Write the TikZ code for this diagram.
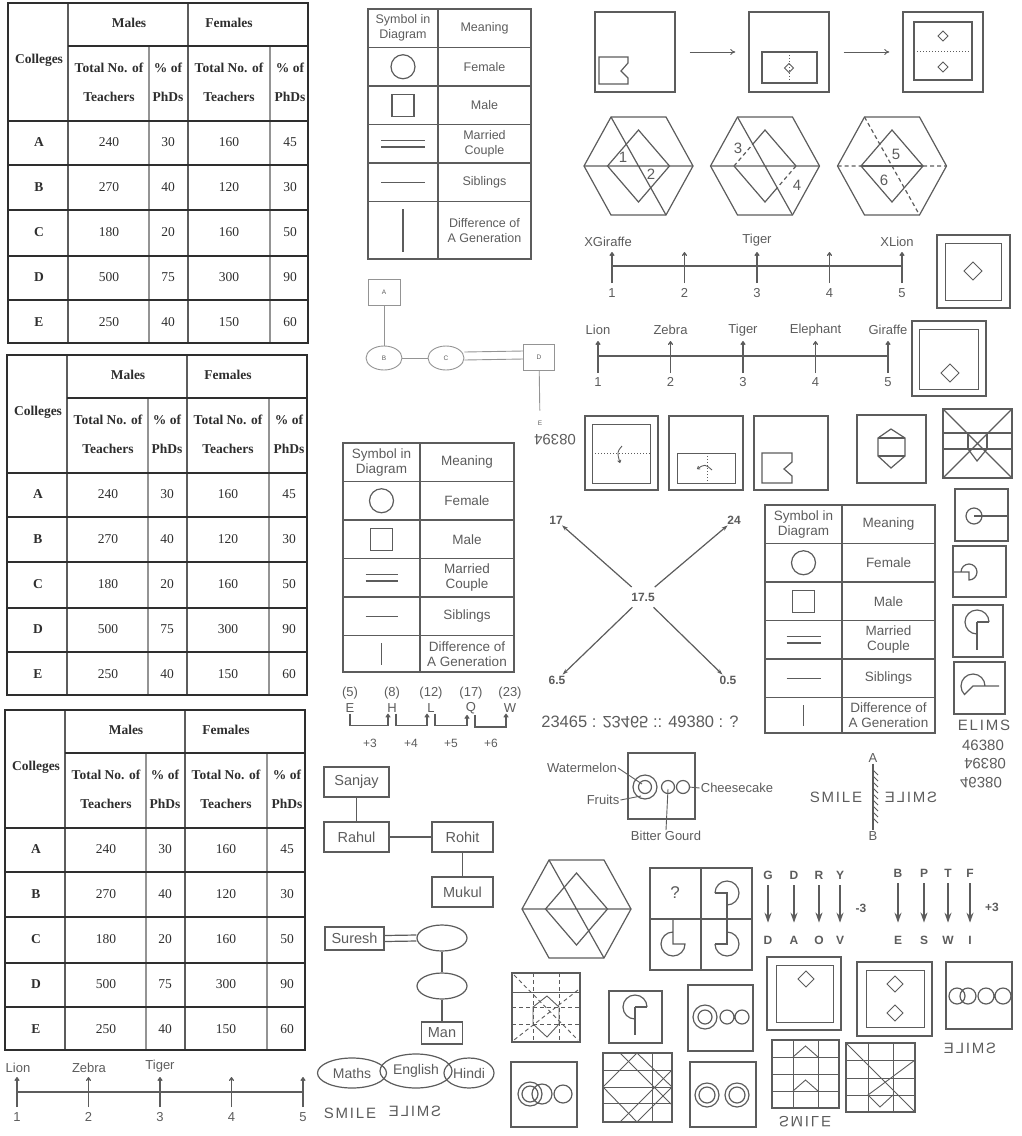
\documentclass[tikz,border=0pt]{standalone}
\usepackage{fontspec}
\setmainfont{Liberation Serif}
\setsansfont{Liberation Sans}
\newfontfamily\spacedsans[LetterSpace=12]{Liberation Sans}
\usetikzlibrary{positioning,shapes.geometric,arrows.meta}
\definecolor{ink}{gray}{0.36}
\definecolor{inkdark}{gray}{0.18}
\definecolor{inklight}{gray}{0.58}
\newcommand{\hexframe}[2]{\draw[ln] ({#1-27.5},{#2-49}) -- ({#1+27.5},{#2-49}) -- ({#1+54.5},#2) -- ({#1+27.5},{#2+49}) -- ({#1-27.5},{#2+49}) -- ({#1-54.5},#2) -- cycle;}
\newcommand{\gemmark}[3]{\draw[fine] ({#1-#3},#2) -- (#1,{#2-#3}) -- ({#1+#3},#2) -- (#1,{#2+#3}) -- cycle;}
\newcommand{\vflip}[1]{\raisebox{0.716em}{\scalebox{1}[-1]{#1}}}
\tikzset{
  ln/.style={draw=ink, line width=1.2pt},
  fine/.style={draw=ink, line width=0.9pt},
  tabline/.style={draw=ink, line width=1.3pt},
  dash2/.style={dash pattern=on 4pt off 3pt},
  dotline/.style={dash pattern=on 1.2pt off 1.8pt},
  sans/.style={font=\sffamily\fontsize{13}{15}\selectfont, text=ink, inner sep=1pt},
  bigsans/.style={font=\sffamily\fontsize{16.5}{18}\selectfont, text=ink, inner sep=1pt},
  symtxt/.style={text=ink, align=center, inner sep=0pt},
  tinytxt/.style={font=\sffamily\fontsize{6.5}{7}\selectfont, text=ink, inner sep=0pt},
  keylab/.style={font=\sffamily\bfseries\fontsize{12}{14}\selectfont, text=ink, inner sep=1pt},
  wordart/.style={font=\spacedsans\fontsize{15}{17}\selectfont, text=ink, inner sep=1pt},
  cell/.style={font=\fontsize{13.5}{15}\selectfont, text=inkdark, inner sep=0pt},
  cellhead/.style={font=\bfseries\fontsize{13.5}{15}\selectfont, text=inkdark, inner sep=0pt},
  namebox/.style={draw=ink, line width=1.2pt, rectangle, font=\sffamily\fontsize{14.5}{16}\selectfont, text=ink, inner sep=0pt},
  oval/.style={draw=ink, line width=1.2pt, ellipse, font=\sffamily\fontsize{14}{16}\selectfont, text=ink, inner sep=0pt},
  minibox/.style={draw=inklight, line width=0.9pt, tinytxt},
  sqframe/.style={draw=ink, line width=1.4pt, minimum size=80pt, inner sep=0pt},
  numtick/.style={draw=ink, line width=1.2pt, -{To[length=4pt,width=5pt]}},
  arr/.style={draw=ink, line width=1.2pt, -{Stealth[length=6pt,width=4pt]}},
  bigarr/.style={draw=ink, line width=1.4pt, -{Stealth[length=10pt,width=7pt]}},
  shiftarr/.style={draw=ink, line width=1.2pt, -{To[length=4pt,width=5pt]}},
  pics/collegetable/.style={code={
    \draw[draw=inklight, line width=1.2pt] (141,43) -- (141,340) (262,43) -- (262,340);
    \draw[draw=ink, line width=1.4pt] (60,0) -- (60,340) (180,0) -- (180,340);
    \draw[draw=inkdark, line width=1.6pt] (60,43) -- (300,43);
    \foreach \y in {118,162,207,253,297} \draw[draw=inkdark, line width=1.6pt] (0,\y) -- (300,\y);
    \draw[draw=inkdark, line width=1.6pt] (0,0) rectangle (300,340);
    \node[cellhead] (-col) at (31,57) {Colleges};
    \node[cellhead] (-male) at (121,20) {Males};
    \node[cellhead] (-fem) at (221,20) {Females};
    \foreach \x/\toptext/\bottext [count=\k] in {101/Total No. of/Teachers,160/\% of/PhDs,221/Total No. of/Teachers,282/\% of/PhDs} {
      \node[cellhead] (-top\k) at (\x,65) {\toptext};
      \node[cellhead] (-bot\k) at (\x,94) {\bottext};
    }
    \foreach \rowname/\mtot/\mphd/\ftot/\fphd [count=\i] in {A/240/30/160/45,B/270/40/120/30,C/180/20/160/50,D/500/75/300/90,E/250/40/150/60} {
      \node[cellhead] (-row\i) at (31,94+45*\i) {\rowname};
      \node[cell] (-mt\i) at (101,94+45*\i) {\mtot};
      \node[cell] (-mp\i) at (160,94+45*\i) {\mphd};
      \node[cell] (-ft\i) at (221,94+45*\i) {\ftot};
      \node[cell] (-fp\i) at (282,94+45*\i) {\fphd};
    }
  }},
  pics/symtable/.style n args={5}{code={
    \begin{scope}[every node/.append style={font=\sffamily\fontsize{#5}{15}\selectfont}]
    \draw[tabline] (0,0) rectangle (#2,{192.5+#3});
    \draw[tabline] (#1,0) -- (#1,{192.5+#3});
    \foreach \k in {1,...,5} \draw[tabline] (0,38.5*\k) -- (#2,38.5*\k);
    \node[symtxt] (-sym) at ({#1/2},19.25) {Symbol in\\Diagram};
    \node[symtxt] (-mean) at ({(#1+#2)/2},19.25) {Meaning};
    \node[symtxt] (-fem) at ({(#1+#2)/2},57.75) {Female};
    \node[symtxt] (-male) at ({(#1+#2)/2},96.25) {Male};
    \node[symtxt] (-cpl) at ({(#1+#2)/2},134.75) {Married\\Couple};
    \node[symtxt] (-sib) at ({(#1+#2)/2},173.25) {Siblings};
    \node[symtxt] (-gen) at ({(#1+#2)/2},{192.5+#3/2}) {Difference of\\A Generation};
    \draw[ln] ({#1/2},57.75) circle (12);
    \draw[ln] ({#1/2-11},85.25) rectangle ({#1/2+11},107.25);
    \draw[ln] ({#1/2-#4},131.5) -- ({#1/2+#4},131.5) ({#1/2-#4},138) -- ({#1/2+#4},138);
    \draw[ln] ({#1/2-#4},173.25) -- ({#1/2+#4},173.25);
    \draw[ln] ({#1/2},200) -- ({#1/2},{185+#3});
    \end{scope}
  }}
}
\begin{document}
\begin{tikzpicture}[x=1pt, y=-1pt]
\useasboundingbox (0,0) rectangle (1021,1136);

\pic (colA) at (8,3) {collegetable};
\pic (colB) at (7,355) {collegetable};
\pic (colC) at (5,710) {collegetable};

\pic (symA) at (368,9) {symtable={70}{163}{57.5}{22}{12.5}};
\pic (symB) at (343,443) {symtable={77}{171}{36.5}{16}{13.5}};
\pic (symC) at (765,505) {symtable={77}{170}{35.5}{17}{13.5}};

\node[minibox, minimum width=32pt, minimum height=26pt] (ga) at (384,292) {A};
\node[minibox, ellipse, minimum width=36pt, minimum height=24pt] (gb) at (384,358) {B};
\node[minibox, ellipse, minimum width=36pt, minimum height=24pt] (gc) at (446,358) {C};
\node[minibox, minimum width=31pt, minimum height=26pt] (gd) at (539,357) {D};
\node[tinytxt] (ge) at (540,423) {E};
\draw[draw=inklight, line width=0.9pt] (ga) -- (gb);
\draw[draw=inklight, line width=0.9pt] (gb) -- (gc);
\draw[draw=inklight, line width=0.9pt] ([yshift=6pt]gc.east) -- ([yshift=6pt]gd.west);
\draw[draw=inklight, line width=0.9pt] ([yshift=-2pt]gc.east) -- ([yshift=-2pt]gd.west);
\draw[draw=inklight, line width=0.9pt, shorten >=10pt] (gd) -- (ge);

\node[sqframe] (fold1) at (635,52) {};
\node[sqframe] (fold2) at (789,52) {};
\node[sqframe] (fold3) at (943,52) {};
\draw[fine, -{To[length=5pt,width=6pt]}, shorten <=14pt, shorten >=13pt] (fold1) -- (fold2);
\draw[fine, -{To[length=5pt,width=6pt]}, shorten <=14pt, shorten >=13pt] (fold2) -- (fold3);
\draw[ln] (599,57) -- (628,57) -- (628,63) -- (621,71) -- (628,78) -- (628,84) -- (599,84) -- cycle;
\draw[ln] (762,52) rectangle (817,83);
\draw[fine, dotline] (789,52) -- (789,83);
\gemmark{789}{68}{4.5}
\draw[ln] (914,22) rectangle (972,80);
\draw[fine, dotline] (914,51) -- (972,51);
\gemmark{943}{36}{5}
\gemmark{943}{67}{5}

\hexframe{638.5}{166}
\draw[ln] (584,166) -- (693,166) (611,117) -- (666,215);
\draw[ln] (607.5,166) -- (638.5,130) -- (669.5,166) -- (638.5,202) -- cycle;
\node[sans, font=\sffamily\fontsize{15}{17}\selectfont] (lab1) at (623,157) {1};
\node[sans, font=\sffamily\fontsize{15}{17}\selectfont] (lab2) at (651,174) {2};

\hexframe{765}{166}
\draw[ln] (710.5,166) -- (819.5,166) (737.5,117) -- (792.5,215);
\draw[ln] (752.8,144.2) -- (765,130) -- (796,166);
\draw[ln] (777.2,187.8) -- (765,202) -- (734,166);
\draw[ln, dash2] (734,166) -- (752.8,144.2) (796,166) -- (777.2,187.8);
\node[sans, font=\sffamily\fontsize{15}{17}\selectfont] (lab3) at (738,148) {3};
\node[sans, font=\sffamily\fontsize{15}{17}\selectfont] (lab4) at (797,185) {4};

\hexframe{892}{166}
\draw[ln, dash2] (837.5,166) -- (861,166) (923,166) -- (946.5,166) (864.5,117) -- (919.5,215);
\draw[ln] (861,166) -- (923,166);
\draw[ln] (861,166) -- (892,130) -- (923,166) -- (892,202) -- cycle;
\node[sans, font=\sffamily\fontsize{15}{17}\selectfont] (lab5) at (896,154) {5};
\node[sans, font=\sffamily\fontsize{15}{17}\selectfont] (lab6) at (884,180) {6};

\draw[ln] (612,266) -- (902,266);
\foreach \i in {1,...,5} {
  \draw[numtick] ({612+72.5*(\i-1)},283) -- ++(0,-31);
  \node[sans] (lineA\i) at ({612+72.5*(\i-1)},293) {\i};
}
\node[sans] (giraffeA) at (608,242) {XGiraffe};
\node[sans] (tigerA) at (757,240) {Tiger};
\node[sans] (lionA) at (897,242) {XLion};
\draw[ln] (937,235) rectangle (1010,308);
\draw[fine] (945,243) rectangle (1001,300);
\gemmark{973}{271}{9}

\draw[ln] (598,356) -- (888,356);
\foreach \i/\animal in {1/Lion,2/Zebra,3/Tiger,4/Elephant,5/Giraffe} {
  \draw[numtick] ({598+72.5*(\i-1)},373) -- ++(0,-32);
  \node[sans] (lineB\i) at ({598+72.5*(\i-1)},382) {\i};
  \node[sans] (animalB\i) at ({598+72.5*(\i-1)},330) {\animal};
}
\draw[ln] (912,321) rectangle (986,396);
\draw[fine] (919,329) rectangle (978,389);
\gemmark{950}{373}{9}

\node[sans, font=\sffamily\fontsize{15}{17}\selectfont] (flipA) at (555,440) {\rotatebox[origin=c]{180}{08394}};
\draw[ln] (585,416) rectangle (658,490);
\draw[fine] (592,424) rectangle (650,483);
\draw[fine, dotline] (592,453) -- (650,453);
\draw[fine, -{To[length=3pt,width=4pt]}] (622,446) .. controls (617,452) .. (620,463);
\draw[ln] (669,416) rectangle (743,490);
\draw[fine] (677,453) rectangle (735,483);
\draw[fine, dotline] (707,453) -- (707,483);
\draw[fine, -{To[length=3pt,width=4pt]}] (712,470) .. controls (705,464) .. (697,469);
\draw[ln] (754,416) rectangle (828,490);
\draw[ln] (762,453) -- (792,453) -- (792,462) -- (784,469) -- (792,476) -- (792,483) -- (762,483) -- cycle;

\draw[ln] (857,415) rectangle (926,483);
\draw[ln] (878,438) -- (891,429) -- (905,438) -- (905,456) -- (891,468) -- (878,456) -- cycle;
\draw[ln] (878,438) -- (905,438) (878,456) -- (905,456);

\draw[ln] (943,409) rectangle (1012,478);
\draw[ln] (943,409) -- (1012,478) (1012,409) -- (943,478);
\draw[ln] (943,433) -- (1012,433) (943,449) -- (1012,449);
\draw[ln] (968,433) -- (968,449) (987,433) -- (987,449);
\draw[ln] (968,449) -- (977,461) -- (987,449);

\node[keylab] (ctr) at (643,597) {17.5};
\node[keylab] (n17) at (556,520) {17};
\node[keylab] (n24) at (734,520) {24};
\node[keylab] (n65) at (557,680) {6.5};
\node[keylab] (n05) at (728,680) {0.5};
\draw[arr, shorten <=7pt] (ctr) -- (n17);
\draw[arr, shorten <=7pt] (ctr) -- (n24);
\draw[arr, shorten <=7pt] (ctr) -- (n65);
\draw[arr, shorten <=7pt] (ctr) -- (n05);

\draw[ln] (955,489) rectangle (1008,541);
\draw[ln] (974,516) circle (8);
\draw[ln] (974,516) -- (1008,516);
\draw[ln] (953,546) rectangle (1006,597);
\draw[ln] (953,572) -- (969,572) -- (969,580) arc[start angle=90, end angle=-180, radius=8];
\draw[ln] (953,605) rectangle (1003,657);
\draw[ln] (989,622) arc[start angle=0, end angle=-270, radius=12];
\draw[ln] (977,622) -- (989,622) (977,622) -- (977,650);
\draw[ln] (954,662) rectangle (1005,714);
\draw[ln] (985,686) arc[start angle=0, end angle=-225, radius=12] -- (973,686) -- (999,686);

\node[wordart] (elims) at (984,725) {ELIMS};
\node[bigsans, font=\sffamily\fontsize{15}{17}\selectfont] (numA) at (983,745) {46380};
\node[bigsans, font=\sffamily\fontsize{15}{17}\selectfont] (numB) at (985,764) {\rotatebox[origin=c]{180}{08394}};
\node[bigsans, font=\sffamily\fontsize{15}{17}\selectfont] (numC) at (981,783) {\vflip{46380}};

\foreach \x/\n/\l [count=\i] in {350/(5)/E,392/(8)/H,431/(12)/L,471/(17)/Q,510/(23)/W} {
  \node[sans] (num\i) at (\x,693) {\n};
  \node[sans] (let\i) at (\x,708) {\l};
}
\draw[shiftarr] (let1.south) -- ++(0,12) -| ([xshift=-4pt]let2.south);
\draw[shiftarr] ([xshift=4pt]let2.south) -- ++(0,12) -| ([xshift=-4pt]let3.south);
\draw[shiftarr] ([xshift=4pt]let3.south) -- ++(0,12) -| ([xshift=-4pt]let4.south);
\draw[shiftarr] ([xshift=4pt]let4.south) -- ++(0,12) -| ([xshift=-4pt]let5.south);
\foreach \x/\t [count=\i] in {370/+3,411/+4,451/+5,491/+6} \node[sans, font=\sffamily\fontsize{12}{14}\selectfont] (inc\i) at (\x,743) {\t};

\node[bigsans] (ratio) at (640,722) {23465 : \vflip{23465} :: 49380 : ?};

\node[draw=ink, line width=1.3pt, minimum width=67pt, minimum height=66pt] (wbox) at (661.5,786) {};
\draw[ln] (645,787) circle (12) (645,787) circle (6.5) (668,787) circle (6.5) (683,787) circle (6.5);
\coordinate (wcore) at (642,784);
\coordinate (wring) at (641,796);
\coordinate (wcake) at (689,787);
\coordinate (wgourd) at (668,789);
\node[sans] (water) at (582,768) {Watermelon};
\node[sans] (fruits) at (603,800) {Fruits};
\node[sans] (cake) at (737,788) {Cheesecake};
\node[sans] (gourd) at (666,836) {Bitter Gourd};
\draw[fine] (water.east) -- (wcore);
\draw[fine] (fruits.east) -- (wring);
\draw[fine] (cake.west) -- (wcake);
\draw[fine] (gourd.north) -- (wgourd);

\node[wordart] (smileL) at (836,797) {SMILE};
\node[wordart] (smileR) at (911,797) {\reflectbox{SMILE}};
\node[sans] (mirA) at (873,758) {A};
\node[sans] (mirB) at (873,836) {B};
\draw[ln] (mirA) -- (mirB);
\foreach \y in {770,776,...,818} \draw[fine] (873,\y) -- (878,\y+5);

\node[namebox, minimum width=65pt, minimum height=30pt] (sanjay) at (356.5,782) {Sanjay};
\node[namebox, minimum width=65pt, minimum height=30pt] (rahul) at (356.5,837) {Rahul};
\node[namebox, minimum width=61pt, minimum height=30pt] (rohit) at (462.5,837) {Rohit};
\node[namebox, minimum width=61pt, minimum height=30pt] (mukul) at (462.5,892) {Mukul};
\draw[ln] (sanjay) -- (rahul);
\draw[ln] (rahul) -- (rohit);
\draw[ln] (rohit) -- (mukul);

\node[namebox, minimum width=59pt, minimum height=23pt] (suresh) at (354.5,938.5) {Suresh};
\node[oval, minimum width=50pt, minimum height=26pt] (wife) at (442,938) {};
\node[oval, minimum width=50pt, minimum height=26pt] (child) at (442,986) {};
\node[namebox, minimum width=41pt, minimum height=22pt, line width=1.7pt] (man) at (442,1033) {Man};
\draw[ln] ([yshift=3pt]suresh.east) -- ([yshift=3pt]wife.west);
\draw[ln] ([yshift=-3pt]suresh.east) -- ([yshift=-3pt]wife.west);
\draw[ln] (wife) -- (child);
\draw[ln] (child) -- (man);

\node[oval, minimum width=69pt, minimum height=30pt] (maths) at (352,1073) {Maths};
\node[oval, minimum width=72pt, minimum height=34pt] (english) at (416,1071) {English};
\node[oval, minimum width=50pt, minimum height=30pt] (hindi) at (469,1073) {Hindi};
\node[wordart] (smileC) at (350,1113) {SMILE};
\node[wordart] (smileD) at (415,1111) {\reflectbox{SMILE}};

\draw[ln] (17,1092) -- (303,1092);
\foreach \i in {1,...,5} {
  \draw[numtick] ({17+71.5*(\i-1)},1107) -- ++(0,-30);
  \node[sans] (lineC\i) at ({17+71.5*(\i-1)},1117) {\i};
}
\node[sans] (lionC) at (18,1068) {Lion};
\node[sans] (zebraC) at (89,1068) {Zebra};
\node[sans] (tigerC) at (160,1066) {Tiger};

\hexframe{576.5}{909}
\draw[ln] (522,909) -- (631,909) (549,860) -- (604,958);
\draw[ln] (545.5,909) -- (576.5,873) -- (607.5,909) -- (576.5,945) -- cycle;

\draw[ln] (650,868) rectangle (752,970);
\draw[ln] (701,868) -- (701,970) (650,919) -- (752,919);
\node[sans, font=\sffamily\fontsize{17}{19}\selectfont] (quest) at (675,893) {?};
\draw[ln] (715,893) arc[start angle=180, end angle=450, radius=12];
\draw[ln] (715,893) -- (727,893) -- (727,944) -- (715,944);
\draw[ln] (727,932) arc[start angle=-90, end angle=180, radius=12];
\draw[ln] (673,919) -- (673,944) -- (685,944) arc[start angle=0, end angle=270, radius=12];

\foreach \x/\a/\b [count=\i] in {768/G/D,794/D/A,819/R/O,840/Y/V} {
  \node[keylab] (upA\i) at (\x,875) {\a};
  \node[keylab] (dnA\i) at (\x,940) {\b};
  \draw[bigarr, shorten <=5pt, shorten >=12pt] (upA\i) -- (dnA\i);
}
\node[keylab] (minus) at (861,908) {-3};
\foreach \x/\a/\b [count=\i] in {898/B/E,924/P/S,948/T/W,970/F/I} {
  \node[keylab] (upB\i) at (\x,873) {\a};
  \node[keylab] (dnB\i) at (\x,940) {\b};
  \draw[bigarr, shorten <=5pt, shorten >=12pt] (upB\i) -- (dnB\i);
}
\node[keylab] (plus) at (992,907) {+3};

\draw[ln] (767,957) rectangle (841,1030);
\draw[fine] (776,965) rectangle (833,1022);
\gemmark{806}{979}{8}
\draw[ln] (857,962) rectangle (932,1036);
\draw[fine] (866,970) rectangle (924,1027);
\gemmark{895}{984}{8}
\gemmark{895}{1013}{8}
\draw[ln] (946,962) rectangle (1012,1029);
\draw[ln] (957,996) circle (8) (968,996) circle (8) (986,996) circle (8) (1003,996) circle (8);
\node[wordart] (smileE) at (970,1048) {\reflectbox{SMILE}};

\draw[ln] (512,973) rectangle (580,1042);
\draw[fine] (512,992) -- (580,992);
\draw[fine, dash2] (512,1007) -- (580,1007) (512,1024) -- (580,1024) (533,973) -- (533,1042) (559,973) -- (559,1042);
\draw[fine, dash2] (514,975) -- (578,1040) (578,990) -- (514,1040);
\draw[fine] (533,1007) -- (547,996) -- (559,1007) -- (559,1024) -- (547,1037) -- (533,1024) -- cycle;

\draw[ln] (609,991) rectangle (662,1043);
\draw[ln] (647,1007) arc[start angle=0, end angle=-270, radius=12];
\draw[ln] (635,1007) -- (647,1007) (635,1007) -- (635,1035);

\draw[ln] (688,985) rectangle (753,1051);
\draw[ln] (705,1017) circle (12) (705,1017) circle (7) (727,1017) circle (7) (742,1017) circle (7);

\draw[ln] (511,1062) rectangle (577,1127);
\draw[ln] (530,1094) circle (12) (530,1094) circle (8) (542,1094) circle (10) (563,1094) circle (9);

\draw[ln] (603,1053) rectangle (672,1122);
\draw[fine] (603,1070) -- (672,1070) (603,1087) -- (672,1087) (603,1103) -- (672,1103) (652,1053) -- (652,1122);
\draw[fine] (603,1087) -- (637,1053) -- (672,1087) -- (637,1122) -- cycle;
\draw[fine] (620,1053) -- (672,1105) (620,1122) -- (672,1070);

\draw[ln] (690,1062) rectangle (756,1127);
\draw[ln] (707,1095) circle (12) (707,1095) circle (8) (737,1095) circle (12) (737,1095) circle (8);

\draw[ln] (772,1040) rectangle (839,1108);
\draw[fine] (793,1040) -- (793,1108) (818,1040) -- (818,1108) (772,1057) -- (839,1057) (772,1074) -- (839,1074) (772,1091) -- (839,1091);
\draw[fine] (793,1057) -- (805.5,1046) -- (818,1057) (793,1091) -- (805.5,1080) -- (818,1091);
\node[wordart] (smileF) at (805,1122) {\vflip{SMILE}};

\draw[ln] (846,1043) rectangle (915,1112);
\draw[fine] (868,1043) -- (868,1112) (893,1043) -- (893,1112) (846,1060) -- (915,1060) (846,1078) -- (915,1078) (846,1095) -- (915,1095);
\draw[fine] (846,1043) -- (915,1112) (915,1060) -- (868,1095) -- (880,1107) -- (893,1095);
\end{tikzpicture}
\end{document}
